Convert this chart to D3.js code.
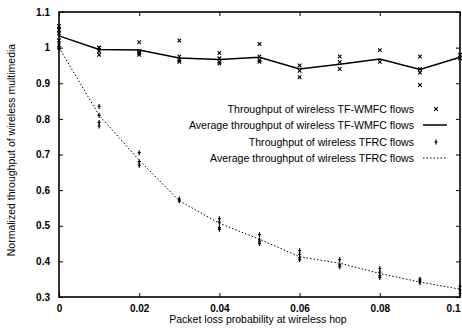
<!DOCTYPE html>
<html>
<head>
<meta charset="utf-8">
<script src="https://cdn.jsdelivr.net/npm/d3@7"></script>
<style>
  body { margin: 0; background: #fff; }
  text { font-family: "Liberation Sans", Arial, sans-serif; fill: #000; }
</style>
</head>
<body>
<script>
// x values (packet loss probability)
const lossProbs = [0, 0.01, 0.02, 0.03, 0.04, 0.05, 0.06, 0.07, 0.08, 0.09, 0.1];

// average curves
const avgWmfc = [1.033, 0.995, 0.993, 0.971, 0.967, 0.973, 0.94, 0.953, 0.968, 0.939, 0.973];
const avgTfrc = [1.0, 0.81, 0.684, 0.57, 0.507, 0.462, 0.413, 0.395, 0.366, 0.342, 0.322];

// individual flow samples, one list per x value
const wmfcSamples = [
	[1.06, 1.05, 1.04, 1.02, 1.0],
	[1.0, 0.99, 0.98, 1.0],
	[1.015, 0.99, 0.98, 0.985],
	[1.02, 0.975, 0.965, 0.96],
	[0.985, 0.96, 0.955, 0.97],
	[1.01, 0.975, 0.96, 0.965],
	[0.95, 0.935, 0.917],
	[0.975, 0.96, 0.94],
	[0.993, 0.96],
	[0.975, 0.94, 0.93, 0.895],
	[0.97, 0.98]
];
const tfrcSamples = [
	[1.0, 1.01],
	[0.835, 0.81, 0.79, 0.78],
	[0.705, 0.68, 0.67],
	[0.57, 0.575],
	[0.52, 0.51, 0.495, 0.49],
	[0.475, 0.46, 0.455, 0.45],
	[0.43, 0.42, 0.405, 0.41],
	[0.405, 0.39, 0.385],
	[0.38, 0.37, 0.36, 0.355],
	[0.35, 0.345, 0.34],
	[0.33, 0.32, 0.31]
];

const xTicks = [0, 0.02, 0.04, 0.06, 0.08, 0.1];
const yTicks = [0.3, 0.4, 0.5, 0.6, 0.7, 0.8, 0.9, 1, 1.1];
const legendLabels = [
	'Throughput of wireless TF-WMFC flows',
	'Average throughput of wireless TF-WMFC flows',
	'Throughput of wireless TFRC flows',
	'Average throughput of wireless TFRC flows'
];

const width = 462, height = 329;
const plotLeft = 59, plotRight = 460, plotTop = 12, plotBottom = 297;

const svg = d3.select('body').append('svg')
	.attr('width', width)
	.attr('height', height);

const xScale = d3.scaleLinear().domain([0, 0.1]).range([plotLeft, plotRight]);
const yScale = d3.scaleLinear().domain([0.3, 1.1]).range([plotBottom, plotTop]);

// axes with inward ticks on all four sides
const fmt = d => String(d);
const xAxis = d3.axisBottom(xScale).tickValues(xTicks).tickSize(-4).tickPadding(8).tickFormat(fmt);
const xTop = d3.axisTop(xScale).tickValues(xTicks).tickSize(-4).tickFormat('');
const yAxis = d3.axisLeft(yScale).tickValues(yTicks).tickSize(-4).tickPadding(9).tickFormat(fmt);
const yRight = d3.axisRight(yScale).tickValues(yTicks).tickSize(-4).tickFormat('');

function style(g) {
	g.select('.domain').remove();
	g.selectAll('.tick line').attr('stroke', '#000').attr('stroke-width', 1);
	g.selectAll('.tick text').style('font-size', '10px').style('font-weight', 'bold').attr('fill', '#111');
}

const xAxisG = svg.append('g').attr('transform', `translate(0,${plotBottom})`).call(xAxis).call(style);
// last label sits on the page edge; keep it inside
xAxisG.selectAll('.tick text').filter(d => d === 0.1).attr('text-anchor', 'end').attr('dx', 0);
svg.append('g').attr('transform', `translate(0,${plotTop})`).call(xTop).call(style);
svg.append('g').attr('transform', `translate(${plotLeft},0)`).call(yAxis).call(style);
svg.append('g').attr('transform', `translate(${plotRight},0)`).call(yRight).call(style);

svg.append('rect')
	.attr('x', plotLeft).attr('y', plotTop)
	.attr('width', plotRight - plotLeft).attr('height', plotBottom - plotTop)
	.attr('fill', 'none').attr('stroke', '#000').attr('stroke-width', 1.6);

// axis titles
svg.append('text')
	.attr('x', 258).attr('y', 323)
	.attr('text-anchor', 'middle')
	.style('font-size', '10.5px')
	.text('Packet loss probability at wireless hop');

svg.append('text')
	.attr('transform', `translate(15,150) rotate(-90)`)
	.attr('text-anchor', 'middle')
	.style('font-size', '10.5px')
	.text('Normalized throughput of wireless multimedia');

// lines
const line = d3.line().x(d => xScale(d[0])).y(d => yScale(d[1]));
svg.append('path')
	.datum(lossProbs.map((x, i) => [x, avgWmfc[i]]))
	.attr('d', line)
	.attr('fill', 'none').attr('stroke', '#000').attr('stroke-width', 1.5);
svg.append('path')
	.datum(lossProbs.map((x, i) => [x, avgTfrc[i]]))
	.attr('d', line)
	.attr('fill', 'none').attr('stroke', '#000').attr('stroke-width', 1)
	.attr('stroke-dasharray', '1.5,2');

// sample markers
const wmfcPts = [], tfrcPts = [];
lossProbs.forEach((x, i) => {
	wmfcSamples[i].forEach(v => wmfcPts.push([x, v]));
	tfrcSamples[i].forEach(v => tfrcPts.push([x, v]));
});

function cross(g, cx, cy) {
	g.append('path')
		.attr('d', `M${cx - 1.8},${cy - 1.8}L${cx + 1.8},${cy + 1.8}M${cx - 1.8},${cy + 1.8}L${cx + 1.8},${cy - 1.8}`)
		.attr('stroke', '#000').attr('stroke-width', 1.1).attr('fill', 'none');
}
function plus(g, cx, cy) {
	g.append('path')
		.attr('d', `M${cx - 1.5},${cy}L${cx + 1.5},${cy}M${cx},${cy - 2.5}L${cx},${cy + 2.5}`)
		.attr('stroke', '#000').attr('stroke-width', 1.2).attr('fill', 'none');
}

const marks = svg.append('g');
wmfcPts.forEach(d => cross(marks, xScale(d[0]), yScale(d[1])));
tfrcPts.forEach(d => plus(marks, xScale(d[0]), yScale(d[1])));

// legend
const legend = svg.append('g');
const rowY = [109, 125, 142, 158];
legendLabels.forEach((t, i) => {
	legend.append('text')
		.attr('x', 414).attr('y', rowY[i] + 3.5)
		.attr('text-anchor', 'end')
		.style('font-size', '10.6px')
		.text(t);
});
cross(legend, 436, rowY[0]);
legend.append('line').attr('x1', 423).attr('x2', 447).attr('y1', rowY[1]).attr('y2', rowY[1])
	.attr('stroke', '#000').attr('stroke-width', 1.5);
plus(legend, 436, rowY[2]);
legend.append('line').attr('x1', 423).attr('x2', 447).attr('y1', rowY[3]).attr('y2', rowY[3])
	.attr('stroke', '#000').attr('stroke-width', 1).attr('stroke-dasharray', '1.5,2');
</script>
</body>
</html>
